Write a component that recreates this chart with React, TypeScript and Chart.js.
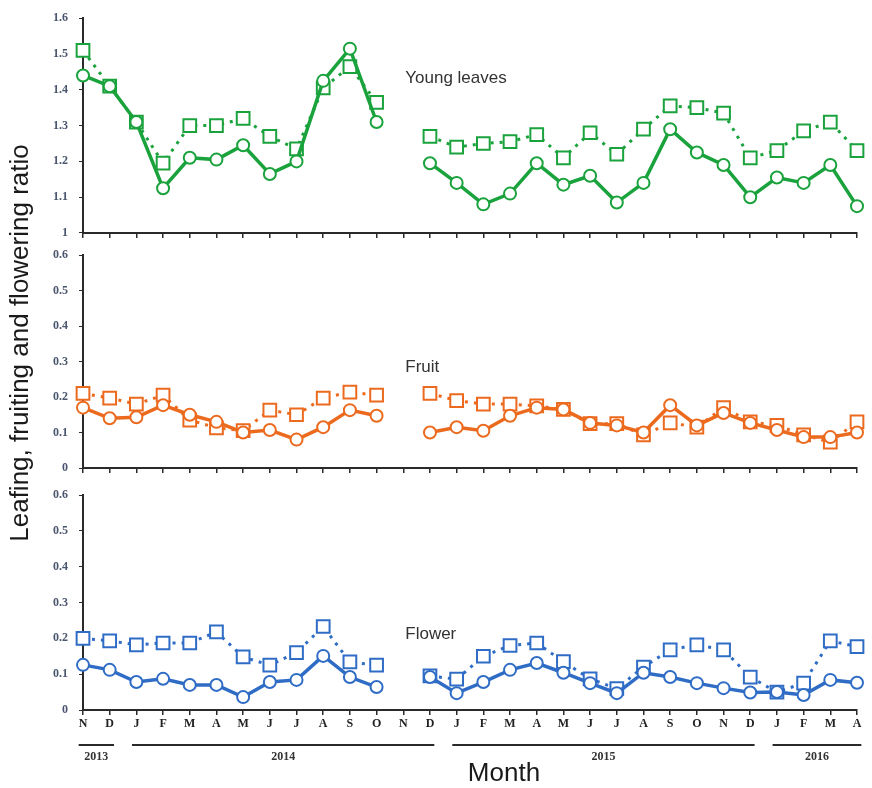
import React, { useEffect, useRef } from 'react';
import { Chart, registerables } from 'chart.js';
Chart.register(...registerables);

const W = 872;
const H = 788;

const months = ['N', 'D', 'J', 'F', 'M', 'A', 'M', 'J', 'J', 'A', 'S', 'O', 'N', 'D', 'J', 'F', 'M', 'A', 'M', 'J', 'J', 'A', 'S', 'O', 'N', 'D', 'J', 'F', 'M', 'A'];
const yearLabels = ['2013', '2014', '2015', '2016'];
const yearFirst = [0, 2, 14, 26];
const yearLast = [1, 13, 25, 29];

const leavesSolid = [1.44, 1.41, 1.31, 1.125, 1.21, 1.205, 1.245, 1.165, 1.2, 1.425, 1.515, 1.31, null, 1.195, 1.14, 1.08, 1.11, 1.195, 1.135, 1.16, 1.085, 1.14, 1.29, 1.225, 1.19, 1.1, 1.155, 1.14, 1.19, 1.075];
const leavesDotted = [1.51, 1.41, 1.31, 1.195, 1.3, 1.3, 1.32, 1.27, 1.235, 1.405, 1.465, 1.365, null, 1.27, 1.24, 1.25, 1.255, 1.275, 1.21, 1.28, 1.22, 1.29, 1.355, 1.35, 1.335, 1.21, 1.23, 1.285, 1.31, 1.23];
const fruitSolid = [0.17, 0.14, 0.143, 0.177, 0.15, 0.13, 0.1, 0.107, 0.08, 0.115, 0.163, 0.147, null, 0.1, 0.115, 0.105, 0.147, 0.17, 0.165, 0.127, 0.12, 0.1, 0.177, 0.12, 0.155, 0.127, 0.107, 0.087, 0.087, 0.1];
const fruitDotted = [0.21, 0.197, 0.18, 0.205, 0.135, 0.113, 0.105, 0.163, 0.15, 0.197, 0.214, 0.205, null, 0.21, 0.19, 0.18, 0.18, 0.175, 0.165, 0.125, 0.125, 0.093, 0.127, 0.115, 0.17, 0.13, 0.12, 0.093, 0.073, 0.13];
const flowerSolid = [0.126, 0.112, 0.078, 0.087, 0.07, 0.07, 0.036, 0.078, 0.084, 0.151, 0.092, 0.064, null, 0.092, 0.047, 0.078, 0.112, 0.131, 0.104, 0.075, 0.047, 0.104, 0.092, 0.075, 0.061, 0.049, 0.05, 0.042, 0.084, 0.076];
const flowerDotted = [0.2, 0.193, 0.182, 0.187, 0.187, 0.218, 0.148, 0.125, 0.16, 0.233, 0.134, 0.125, null, 0.095, 0.086, 0.15, 0.18, 0.187, 0.135, 0.087, 0.06, 0.12, 0.168, 0.182, 0.168, 0.092, 0.05, 0.075, 0.193, 0.177];

const panelNames = ['Young leaves', 'Fruit', 'Flower'];
const panelLabelValues = [1.433, 0.285, 0.21];
const panelMin = [1, 0, 0];
const panelMax = [1.6, 0.6, 0.6];
const yTitle = 'Leafing, fruiting and flowering ratio';
const xTitle = 'Month';

const GREEN = '#1aa23c';
const ORANGE = '#ec6a1e';
const BLUE = '#2f6cc5';
const AXIS = '#2a2a2a';
const SANS = '"Liberation Sans", Arial, sans-serif';
const SERIF = '"Liberation Serif", "Times New Roman", serif';

const panels = [
  { solid: leavesSolid, dotted: leavesDotted, color: GREEN, padTop: 18, padBottom: 545, axisH: 10, showLabels: false },
  { solid: fruitSolid, dotted: fruitDotted, color: ORANGE, padTop: 255, padBottom: 310, axisH: 10, showLabels: false },
  { solid: flowerSolid, dotted: flowerDotted, color: BLUE, padTop: 495, padBottom: 38, axisH: 40, showLabels: true },
];

const panelLabelPlugin = {
  id: 'panelLabel',
  afterDatasetsDraw(chart: any, _args: any, opts: any) {
    const { ctx, scales } = chart;
    const x = scales.x.getPixelForValue(opts.index);
    const y = scales.y.getPixelForValue(opts.value);
    ctx.save();
    ctx.font = '17px ' + SANS;
    ctx.fillStyle = '#333';
    ctx.textAlign = 'left';
    ctx.textBaseline = 'middle';
    ctx.fillText(opts.text, x + 2, y);
    ctx.restore();
  },
};

const decorPlugin = {
  id: 'decor',
  afterDraw(chart: any) {
    const { ctx, scales, chartArea } = chart;
    const xs = scales.x;
    const step = xs.getPixelForValue(1) - xs.getPixelForValue(0);
    ctx.save();
    ctx.strokeStyle = AXIS;
    ctx.lineWidth = 2;
    ctx.fillStyle = '#333';
    ctx.font = 'bold 12px ' + SERIF;
    ctx.textAlign = 'center';
    ctx.textBaseline = 'middle';
    const barY = chartArea.bottom + 35;
    for (let i = 0; i < yearLabels.length; i++) {
      const x1 = xs.getPixelForValue(yearFirst[i]) - step / 2 + 9;
      const x2 = xs.getPixelForValue(yearLast[i]) + step / 2 - 9;
      ctx.beginPath();
      ctx.moveTo(x1, barY);
      ctx.lineTo(x2, barY);
      ctx.stroke();
      ctx.fillText(yearLabels[i], (x1 + x2) / 2, barY + 12);
    }
    ctx.fillStyle = '#1a1a1a';
    ctx.font = '26px ' + SANS;
    ctx.fillText(xTitle, 504, 774);
    ctx.translate(21, 343);
    ctx.rotate(-Math.PI / 2);
    ctx.font = '26px ' + SANS;
    ctx.fillText(yTitle, 0, 0);
    ctx.restore();
  },
};

function buildConfig(p: any, i: number): any {
  const plugins: any[] = [panelLabelPlugin];
  if (i === 2) plugins.push(decorPlugin);
  return {
    type: 'line',
    data: {
      labels: months,
      datasets: [
        {
          data: p.solid,
          borderColor: p.color,
          borderWidth: 3.5,
          pointStyle: 'circle',
          pointRadius: 6,
          pointBorderWidth: 2,
          pointBackgroundColor: '#ffffff',
          pointBorderColor: p.color,
          spanGaps: false,
          tension: 0,
          order: 0,
        },
        {
          data: p.dotted,
          borderColor: p.color,
          borderWidth: 3,
          borderDash: [3, 6],
          pointStyle: 'rect',
          pointRadius: 9,
          pointBorderWidth: 2,
          pointBackgroundColor: '#ffffff',
          pointBorderColor: p.color,
          spanGaps: false,
          tension: 0,
          order: 1,
        },
      ],
    },
    options: {
      responsive: false,
      animation: false,
      events: [],
      layout: { padding: { left: 0, right: 15, top: p.padTop, bottom: p.padBottom } },
      plugins: {
        legend: { display: false },
        tooltip: { enabled: false },
        title: { display: false },
        panelLabel: { text: panelNames[i], index: 12, value: panelLabelValues[i] },
      },
      scales: {
        x: {
          type: 'category',
          offset: false,
          grid: { drawOnChartArea: false, color: AXIS, tickLength: 5, lineWidth: 1.5 },
          border: { color: AXIS, width: 2 },
          ticks: {
            display: p.showLabels,
            autoSkip: false,
            maxRotation: 0,
            padding: 2,
            color: '#222',
            font: { family: SERIF, size: 12, weight: 'bold' },
          },
          afterFit: (s: any) => { s.height = p.axisH; },
        },
        y: {
          type: 'linear',
          min: panelMin[i],
          max: panelMax[i],
          grid: { drawOnChartArea: false, color: AXIS, tickLength: 4, lineWidth: 1 },
          border: { color: AXIS, width: 2 },
          ticks: {
            stepSize: 0.1,
            padding: 11,
            color: '#4a556e',
            font: { family: SERIF, size: 12, weight: 'bold' },
            callback: (v: any) => String(Number(Number(v).toFixed(1))),
          },
          afterFit: (s: any) => { s.width = 83; },
        },
      },
    },
    plugins,
  };
}

export default function App() {
  const r0 = useRef<HTMLCanvasElement>(null);
  const r1 = useRef<HTMLCanvasElement>(null);
  const r2 = useRef<HTMLCanvasElement>(null);
  useEffect(() => {
    const refs = [r0, r1, r2];
    const charts = panels.map((p, i) => new Chart(refs[i].current as HTMLCanvasElement, buildConfig(p, i)));
    return () => charts.forEach((c) => c.destroy());
  }, []);
  const style: React.CSSProperties = { position: 'absolute', left: 0, top: 0, width: W, height: H };
  return (
    <div style={{ position: 'absolute', left: 0, top: 0, width: W, height: H, background: '#fff' }}>
      <canvas ref={r0} width={W} height={H} style={style} />
      <canvas ref={r1} width={W} height={H} style={style} />
      <canvas ref={r2} width={W} height={H} style={style} />
    </div>
  );
}
